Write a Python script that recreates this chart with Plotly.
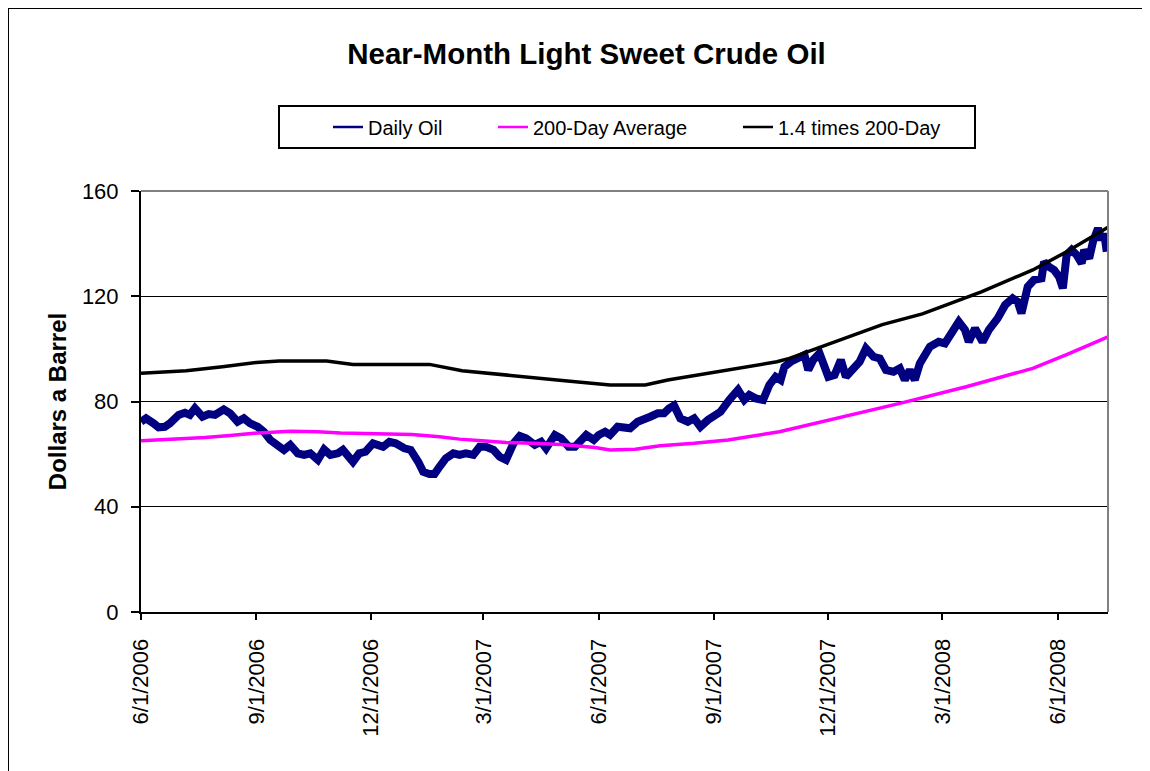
import plotly.graph_objects as go

# ---------------- data ----------------
daily_dates = [
    "2006-06-01", "2006-06-05", "2006-06-11", "2006-06-15", "2006-06-20", "2006-06-24",
    "2006-07-01", "2006-07-06", "2006-07-10", "2006-07-14", "2006-07-20", "2006-07-25",
    "2006-07-30", "2006-08-06", "2006-08-11", "2006-08-17", "2006-08-22", "2006-08-27",
    "2006-09-02", "2006-09-07", "2006-09-12", "2006-09-18", "2006-09-23", "2006-09-28",
    "2006-10-04", "2006-10-09", "2006-10-14", "2006-10-20", "2006-10-25", "2006-10-30",
    "2006-11-05", "2006-11-09", "2006-11-17", "2006-11-22", "2006-11-27", "2006-12-03",
    "2006-12-11", "2006-12-16", "2006-12-21", "2006-12-28", "2007-01-02", "2007-01-08",
    "2007-01-12", "2007-01-17", "2007-01-21", "2007-01-25", "2007-01-30", "2007-02-05",
    "2007-02-10", "2007-02-15", "2007-02-21", "2007-02-26", "2007-03-03", "2007-03-09",
    "2007-03-14", "2007-03-19", "2007-03-25", "2007-03-30", "2007-04-04", "2007-04-11",
    "2007-04-16", "2007-04-20", "2007-04-27", "2007-05-02", "2007-05-08", "2007-05-13",
    "2007-05-18", "2007-05-22", "2007-05-28", "2007-06-01", "2007-06-06", "2007-06-10",
    "2007-06-16", "2007-06-21", "2007-06-26", "2007-07-02", "2007-07-07", "2007-07-12",
    "2007-07-18", "2007-07-23", "2007-07-27", "2007-07-31", "2007-08-05", "2007-08-11",
    "2007-08-16", "2007-08-21", "2007-08-27", "2007-09-01", "2007-09-06", "2007-09-13",
    "2007-09-20", "2007-09-25", "2007-09-29", "2007-10-04", "2007-10-10", "2007-10-15",
    "2007-10-20", "2007-10-24", "2007-10-27", "2007-11-01", "2007-11-07", "2007-11-12",
    "2007-11-15", "2007-11-19", "2007-11-24", "2007-11-27", "2007-12-01", "2007-12-06",
    "2007-12-11", "2007-12-15", "2007-12-21", "2007-12-26", "2007-12-31", "2008-01-06",
    "2008-01-11", "2008-01-16", "2008-01-22", "2008-01-27", "2008-01-31", "2008-02-04",
    "2008-02-08", "2008-02-12", "2008-02-20", "2008-02-27", "2008-03-03", "2008-03-09",
    "2008-03-14", "2008-03-19", "2008-03-22", "2008-03-27", "2008-04-02", "2008-04-07",
    "2008-04-14", "2008-04-20", "2008-04-26", "2008-04-30", "2008-05-03", "2008-05-08",
    "2008-05-13", "2008-05-19", "2008-05-21", "2008-05-25", "2008-05-29", "2008-06-02",
    "2008-06-05", "2008-06-08", "2008-06-12", "2008-06-16", "2008-06-20", "2008-06-22",
    "2008-06-26", "2008-06-29", "2008-07-03", "2008-07-06", "2008-07-08", "2008-07-10",
]
daily_oil = [
    72.3, 73.6, 71.7, 70.2, 70.4, 71.7,
    74.9, 75.7, 74.9, 77.4, 74.2, 75.2,
    74.9, 77.0, 75.5, 72.3, 73.6, 71.7,
    70.4, 68.5, 65.4, 62.8, 61.6, 63.5,
    60.3, 59.7, 60.3, 57.8, 61.8, 59.7,
    60.3, 61.6, 57.1, 60.3, 60.9, 64.1,
    62.8, 64.7, 64.1, 62.2, 61.6, 57.1,
    53.3, 52.4, 52.4, 55.2, 58.4, 60.3,
    59.7, 60.3, 59.7, 62.8, 62.8, 61.6,
    59.0, 57.8, 64.1, 66.9, 66.0, 63.5,
    64.7, 62.2, 67.3, 66.0, 62.8, 62.8,
    66.0, 67.3, 65.4, 67.3, 68.5, 67.3,
    70.4, 69.8, 69.8, 72.3, 73.6, 74.2,
    75.5, 75.5, 77.4, 78.5, 73.6, 72.3,
    73.6, 70.4, 73.0, 74.9, 76.1, 80.6,
    84.4, 80.6, 82.5, 81.2, 80.6, 86.3,
    89.4, 88.2, 93.2, 95.1, 96.4, 97.7,
    92.0, 95.8, 98.3, 94.5, 89.4, 90.1,
    95.8, 89.4, 92.0, 95.1, 100.2, 97.0,
    96.4, 92.0, 91.3, 92.6, 88.2, 92.0,
    88.2, 94.5, 100.8, 102.7, 102.1, 107.2,
    110.3, 107.2, 102.7, 107.8, 102.7, 107.2,
    111.6, 116.7, 119.2, 117.9, 113.5, 123.6,
    126.2, 126.8, 133.1, 131.2, 130.0, 127.4,
    123.0, 135.7, 137.6, 135.7, 132.5, 137.6,
    134.4, 140.7, 145.8, 141.4, 143.9, 136.9,
]

avg_dates = [
    "2006-06-01", "2006-06-30", "2006-07-22", "2006-08-11", "2006-08-30", "2006-09-28",
    "2006-10-20", "2006-11-07", "2006-12-11", "2007-01-03", "2007-01-25", "2007-02-10",
    "2007-02-28", "2007-03-19", "2007-04-09", "2007-05-02", "2007-05-29", "2007-06-10",
    "2007-06-30", "2007-07-20", "2007-08-16", "2007-09-12", "2007-10-23", "2007-12-05",
    "2008-01-27", "2008-03-20", "2008-05-12", "2008-06-08", "2008-07-11",
]
avg_200 = [
    65.1, 65.6, 66.3, 67.1, 67.9, 68.7,
    68.5, 68.0, 67.9, 67.5, 66.6, 65.7,
    65.1, 64.4, 64.1, 63.7, 62.5, 61.6,
    61.9, 63.2, 64.1, 65.4, 68.5, 73.3,
    79.3, 85.6, 92.6, 97.8, 104.6,
]

mult_dates = [
    "2006-06-01", "2006-07-07", "2006-08-05", "2006-09-01", "2006-09-19", "2006-10-27",
    "2006-11-17", "2007-01-17", "2007-02-12", "2007-03-24", "2007-05-07", "2007-06-10",
    "2007-07-08", "2007-07-26", "2007-08-21", "2007-09-12", "2007-10-21", "2007-10-31",
    "2007-12-05", "2008-01-13", "2008-02-14", "2008-04-01", "2008-05-12", "2008-06-08",
    "2008-07-11",
]
mult_14 = [
    90.7, 91.7, 93.2, 94.8, 95.4, 95.4,
    94.1, 94.1, 91.7, 89.7, 87.8, 86.3,
    86.3, 88.2, 90.3, 92.0, 95.1, 96.4,
    102.6, 109.2, 113.3, 121.7, 130.0, 136.9,
    146.2,
]

tick_dates = ["2006-06-01", "2006-09-01", "2006-12-01", "2007-03-01", "2007-06-01",
              "2007-09-01", "2007-12-01", "2008-03-01", "2008-06-01"]
tick_labels = ["6/1/2006", "9/1/2006", "12/1/2006", "3/1/2007", "6/1/2007",
               "9/1/2007", "12/1/2007", "3/1/2008", "6/1/2008"]
y_ticks = [0, 40, 80, 120, 160]

series_names = ["Daily Oil", "200-Day Average", "1.4 times 200-Day"]
series_colors = ["#000080", "#FF00FF", "#000000"]

# ---------------- layout geometry ----------------
# the page body has an 8px margin, so the figure starts 8px in from the window corner
OFF = 8
W, H = 1150 - OFF, 771 - OFF
PLOT_L, PLOT_R, PLOT_T, PLOT_B = 141, 1108, 191, 612      # window pixels of the plot area
L, T = PLOT_L - OFF, PLOT_T - OFF
R, B = W - (PLOT_R - OFF), H - (PLOT_B - OFF)
PW, PH = W - L - R, H - T - B


def px(x):
    """window x pixel -> paper coordinate"""
    return (x - PLOT_L) / PW


def py(y):
    """window y pixel -> paper coordinate"""
    return (PLOT_B - y) / PH


FONT = "Liberation Sans, Arial, sans-serif"

fig = go.Figure()

# real data traces (legend uses thin sample lines below)
fig.add_trace(go.Scatter(x=daily_dates, y=daily_oil, mode="lines", name=series_names[0],
                         line=dict(color=series_colors[0], width=8), showlegend=False))
fig.add_trace(go.Scatter(x=avg_dates, y=avg_200, mode="lines", name=series_names[1],
                         line=dict(color=series_colors[1], width=3.5), showlegend=False))
fig.add_trace(go.Scatter(x=mult_dates, y=mult_14, mode="lines", name=series_names[2],
                         line=dict(color=series_colors[2], width=3.5), showlegend=False))

legend_ids = ["legend", "legend2", "legend3"]
for name, color, lid in zip(series_names, series_colors, legend_ids):
    fig.add_trace(go.Scatter(x=[None], y=[None], mode="lines", name=name,
                             line=dict(color=color, width=2.5), showlegend=True,
                             legend=lid, hoverinfo="skip"))

legend_text_x = [368, 533, 778]
legend_common = dict(orientation="h", xanchor="left", yanchor="middle",
                     bgcolor="rgba(0,0,0,0)", borderwidth=0,
                     font=dict(family=FONT, size=20, color="black"))

shapes = [
    # outer chart frame: only its top and left edges fall inside the picture
    dict(type="line", xref="paper", yref="paper", x0=px(8), x1=px(1160), y0=py(8), y1=py(8),
         line=dict(color="black", width=2), layer="below"),
    dict(type="line", xref="paper", yref="paper", x0=px(8), x1=px(8), y0=py(8), y1=py(780),
         line=dict(color="black", width=2), layer="below"),
    # legend box
    dict(type="rect", xref="paper", yref="paper", x0=px(279), x1=px(975), y0=py(148), y1=py(106),
         line=dict(color="black", width=2), layer="below"),
    # plot-area border (top / right, grey)
    dict(type="line", xref="paper", yref="paper", x0=0, x1=1, y0=1, y1=1,
         line=dict(color="#808080", width=2), layer="above"),
    dict(type="line", xref="paper", yref="paper", x0=1, x1=1, y0=0, y1=1,
         line=dict(color="#808080", width=2), layer="above"),
]

fig.update_layout(
    width=W, height=H,
    margin=dict(l=L, r=R, t=T, b=B, pad=0),
    paper_bgcolor="white", plot_bgcolor="white",
    font=dict(family=FONT, color="black"),
    title=dict(text="Near-Month Light Sweet Crude Oil", x=(586.5 - OFF) / W, xanchor="center",
               y=1 - (54 - OFF) / H, yanchor="middle",
               font=dict(family=FONT, size=29.5, color="black", weight="bold")),
    legend=dict(x=px(legend_text_x[0] - 40), y=py(127), **legend_common),
    legend2=dict(x=px(legend_text_x[1] - 40), y=py(127), **legend_common),
    legend3=dict(x=px(legend_text_x[2] - 40), y=py(127), **legend_common),
    shapes=shapes,
    xaxis=dict(
        type="date", range=["2006-06-01", "2008-07-11"],
        tickvals=tick_dates, ticktext=tick_labels, tickangle=-90,
        tickfont=dict(family=FONT, size=22, color="black"),
        ticks="outside", ticklen=6, tickwidth=1.5, tickcolor="black",
        ticklabelstandoff=10,
        showline=True, linecolor="black", linewidth=2,
        showgrid=False, zeroline=False,
    ),
    yaxis=dict(
        range=[0, 160], tickvals=y_ticks,
        tickfont=dict(family=FONT, size=22, color="black"),
        ticks="outside", ticklen=8, tickwidth=1.5, tickcolor="black",
        ticklabelstandoff=8,
        showline=True, linecolor="black", linewidth=2,
        showgrid=True, gridcolor="black", gridwidth=1, zeroline=False,
        title=dict(text="Dollars a Barrel", standoff=8,
                   font=dict(family=FONT, size=24, color="black", weight="bold")),
    ),
)

# keep the page free of scrollbars
fig.write_html(
    "out.html",
    post_script="document.documentElement.style.overflow='hidden';"
                "document.body.style.overflow='hidden';",
)
